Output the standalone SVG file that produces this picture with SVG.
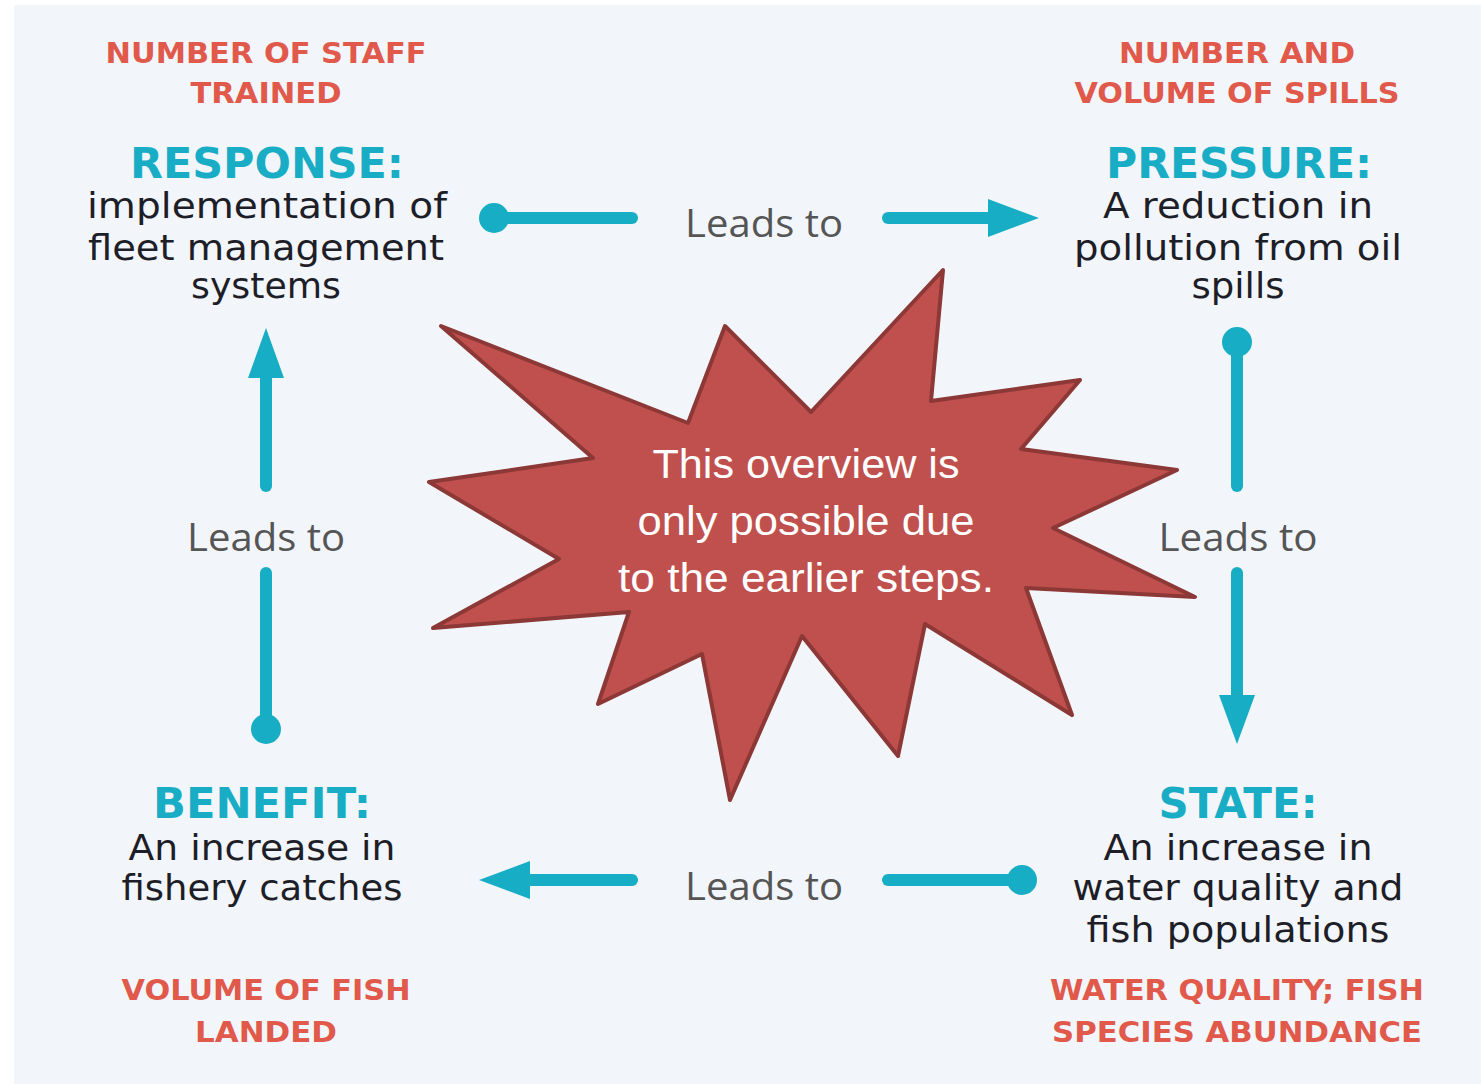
<svg xmlns="http://www.w3.org/2000/svg" width="1481" height="1084" viewBox="0 0 1481 1084">
  <style>
    .metric { font-family: "DejaVu Sans", "Liberation Sans", sans-serif; font-weight: bold; font-size: 29px; fill: #e0594b; text-anchor: middle; }
    .head { font-family: "DejaVu Sans", "Liberation Sans", sans-serif; font-weight: bold; font-size: 43px; fill: #19adc5; text-anchor: middle; }
    .body { font-family: "DejaVu Sans", "Liberation Sans", sans-serif; font-size: 35px; fill: #1e1e28; text-anchor: middle; }
    .lead { font-family: "Open Sans", "Liberation Sans", sans-serif; font-size: 38px; fill: #555555; text-anchor: middle; }
    .note { font-family: "Liberation Sans", "Open Sans", sans-serif; font-size: 40px; fill: #ffffff; text-anchor: middle; }
    .link { stroke: #17adc4; stroke-width: 12; stroke-linecap: round; fill: none; }
    .tip { fill: #17adc4; }
  </style>

  <!-- panel -->
  <rect x="14" y="5" width="1467" height="1079" fill="#f2f6fa"/>

  <!-- response node (top left) -->
  <g id="response">
    <text class="metric" x="266" y="63" textLength="321" lengthAdjust="spacingAndGlyphs">NUMBER OF STAFF</text>
    <text class="metric" x="266" y="103" textLength="151" lengthAdjust="spacingAndGlyphs">TRAINED</text>
    <text class="head" x="267" y="178" textLength="274" lengthAdjust="spacingAndGlyphs">RESPONSE:</text>
    <text class="body" x="267" y="218" textLength="360" lengthAdjust="spacingAndGlyphs">implementation of</text>
    <text class="body" x="266" y="260" textLength="356" lengthAdjust="spacingAndGlyphs">fleet management</text>
    <text class="body" x="266" y="298" textLength="150" lengthAdjust="spacingAndGlyphs">systems</text>
  </g>

  <!-- pressure node (top right) -->
  <g id="pressure">
    <text class="metric" x="1237" y="63" textLength="236" lengthAdjust="spacingAndGlyphs">NUMBER AND</text>
    <text class="metric" x="1237" y="103" textLength="325" lengthAdjust="spacingAndGlyphs">VOLUME OF SPILLS</text>
    <text class="head" x="1239" y="178" textLength="266" lengthAdjust="spacingAndGlyphs">PRESSURE:</text>
    <text class="body" x="1238" y="218" textLength="270" lengthAdjust="spacingAndGlyphs">A reduction in</text>
    <text class="body" x="1238" y="260" textLength="328" lengthAdjust="spacingAndGlyphs">pollution from oil</text>
    <text class="body" x="1238" y="298" textLength="93" lengthAdjust="spacingAndGlyphs">spills</text>
  </g>

  <!-- state node (bottom right) -->
  <g id="state">
    <text class="head" x="1238" y="818" textLength="159" lengthAdjust="spacingAndGlyphs">STATE:</text>
    <text class="body" x="1238" y="860" textLength="269" lengthAdjust="spacingAndGlyphs">An increase in</text>
    <text class="body" x="1238" y="900" textLength="331" lengthAdjust="spacingAndGlyphs">water quality and</text>
    <text class="body" x="1238" y="942" textLength="303" lengthAdjust="spacingAndGlyphs">fish populations</text>
    <text class="metric" x="1237" y="1000" textLength="374" lengthAdjust="spacingAndGlyphs">WATER QUALITY; FISH</text>
    <text class="metric" x="1237" y="1042" textLength="370" lengthAdjust="spacingAndGlyphs">SPECIES ABUNDANCE</text>
  </g>

  <!-- benefit node (bottom left) -->
  <g id="benefit">
    <text class="head" x="262" y="818" textLength="218" lengthAdjust="spacingAndGlyphs">BENEFIT:</text>
    <text class="body" x="262" y="860" textLength="267" lengthAdjust="spacingAndGlyphs">An increase in</text>
    <text class="body" x="262" y="900" textLength="281" lengthAdjust="spacingAndGlyphs">fishery catches</text>
    <text class="metric" x="266" y="1000" textLength="289" lengthAdjust="spacingAndGlyphs">VOLUME OF FISH</text>
    <text class="metric" x="266" y="1042" textLength="142" lengthAdjust="spacingAndGlyphs">LANDED</text>
  </g>

  <!-- connectors -->
  <g id="connectors">
    <!-- response to pressure -->
    <circle class="tip" cx="494" cy="218" r="15"/>
    <line class="link" x1="494" y1="218" x2="632" y2="218"/>
    <line class="link" x1="888" y1="218" x2="992" y2="218"/>
    <polygon class="tip" points="988,199 1039,218 988,237"/>
    <text class="lead" x="764" y="237" textLength="158" lengthAdjust="spacingAndGlyphs">Leads to</text>

    <!-- pressure to state -->
    <circle class="tip" cx="1237" cy="342" r="15"/>
    <line class="link" x1="1237" y1="342" x2="1237" y2="486"/>
    <line class="link" x1="1237" y1="573" x2="1237" y2="698"/>
    <polygon class="tip" points="1219,695 1255,695 1237,744"/>
    <text class="lead" x="1238" y="551" textLength="159" lengthAdjust="spacingAndGlyphs">Leads to</text>

    <!-- state to benefit -->
    <circle class="tip" cx="1022" cy="880" r="15"/>
    <line class="link" x1="888" y1="880" x2="1022" y2="880"/>
    <line class="link" x1="526" y1="880" x2="632" y2="880"/>
    <polygon class="tip" points="530,861 479,880 530,899"/>
    <text class="lead" x="764" y="900" textLength="158" lengthAdjust="spacingAndGlyphs">Leads to</text>

    <!-- benefit to response -->
    <circle class="tip" cx="266" cy="729" r="15"/>
    <line class="link" x1="266" y1="729" x2="266" y2="573"/>
    <line class="link" x1="266" y1="486" x2="266" y2="374"/>
    <polygon class="tip" points="248,378 266,328 284,378"/>
    <text class="lead" x="266" y="551" textLength="158" lengthAdjust="spacingAndGlyphs">Leads to</text>
  </g>

  <!-- central callout burst -->
  <g id="callout">
    <polygon fill="#c0504d" stroke="#8c3836" stroke-width="4" stroke-linejoin="round"
      points="441,326 688,423 725,326 811,412 943,270 931,401 1080,380 1021,449 1177,470 1053,528 1195,597 1026,588 1072,715 925,624 898,756 802,636 730,800 702,654 598,704 629,612 433,628 559,559 429,482 593,458"/>
    <text class="note" x="806" y="478" textLength="307" lengthAdjust="spacingAndGlyphs">This overview is</text>
    <text class="note" x="806" y="535" textLength="337" lengthAdjust="spacingAndGlyphs">only possible due</text>
    <text class="note" x="806" y="592" textLength="376" lengthAdjust="spacingAndGlyphs">to the earlier steps.</text>
  </g>
</svg>
